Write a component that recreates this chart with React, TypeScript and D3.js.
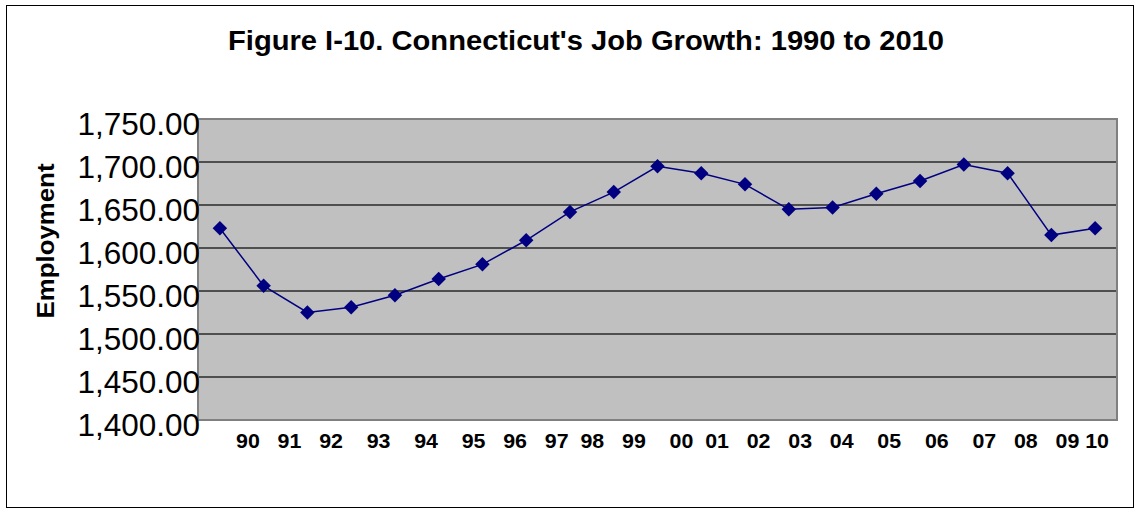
import * as d3 from 'd3';

// Connecticut nonfarm employment (thousands), 1990-2010
const years = ['90', '91', '92', '93', '94', '95', '96', '97', '98', '99', '00', '01', '02', '03', '04', '05', '06', '07', '08', '09', '10'];
const employment = [1623, 1556, 1525, 1531, 1545, 1564, 1581, 1609, 1642, 1665, 1695, 1687, 1674, 1645, 1647, 1663, 1678, 1697, 1687, 1615, 1623];
const yTicks = [1400, 1450, 1500, 1550, 1600, 1650, 1700, 1750];

const title = "Figure I-10. Connecticut's Job Growth: 1990 to 2010";
const yTitle = 'Employment';
// the year row is a typed axis title, not the category labels
const xTitle = '90   91   92    93    94    95   96   97  98   99    00  01   02   03   04    05    06    07   08   09 10';

const W = 1136;
const H = 510;
const plot = { left: 198, right: 1117, top: 119, bottom: 420 };
const font = '"Liberation Sans", Arial, sans-serif';
const navy = '#000080';

export default function App() {
  const x = d3.scaleBand<string>()
    .domain(years)
    .range([plot.left, plot.right]);

  const y = d3.scaleLinear()
    .domain([1400, 1750])
    .range([plot.bottom, plot.top]);

  const cx = (d: string) => (x(d) ?? 0) + x.bandwidth() / 2;
  const pts = years.map((yr, i) => [cx(yr), y(employment[i])] as [number, number]);

  const line = d3.line()(pts) ?? '';
  const diamond = d3.symbol().type(d3.symbolSquare).size(105)() ?? '';
  const fmt = d3.format(',.2f');

  return (
    <svg width={W} height={H} style={{ position: 'absolute', left: 0, top: 0, background: '#fff' }} fontFamily={font}>
      <rect x={6.5} y={5.5} width={1127} height={502} fill="#fff" stroke="#000" strokeWidth={1} />

      <text x={228} y={50} fontSize={28} fontWeight="bold" textLength={716} lengthAdjust="spacingAndGlyphs">
        {title}
      </text>

      {/* plot area */}
      <rect x={plot.left} y={plot.top} width={plot.right - plot.left} height={plot.bottom - plot.top} fill="#C0C0C0" />
      {yTicks.slice(1, -1).map(t => (
        <line key={t} x1={plot.left} x2={plot.right} y1={y(t)} y2={y(t)} stroke="#2a2a2a" strokeWidth={1.4} />
      ))}
      <rect x={plot.left} y={plot.top} width={plot.right - plot.left} height={plot.bottom - plot.top} fill="none" stroke="#808080" strokeWidth={2} />

      {yTicks.map(t => (
        <text key={t} x={200} y={y(t) + 16} fontSize={31.5} textAnchor="end" fill="#000">
          {fmt(t)}
        </text>
      ))}

      <text transform="translate(54,241) rotate(-90)" fontSize={23} fontWeight="bold" textAnchor="middle"
        textLength={155} lengthAdjust="spacingAndGlyphs">
        {yTitle}
      </text>

      <text x={236} y={448} fontSize={21} fontWeight="bold" xmlSpace="preserve" style={{ whiteSpace: 'pre' }}
        textLength={873} lengthAdjust="spacingAndGlyphs">
        {xTitle}
      </text>

      <path d={line} fill="none" stroke={navy} strokeWidth={1.5} />
      {pts.map(([px, py], i) => (
        <path key={years[i]} d={diamond} transform={`translate(${px},${py}) rotate(45)`} fill={navy} />
      ))}
    </svg>
  );
}
